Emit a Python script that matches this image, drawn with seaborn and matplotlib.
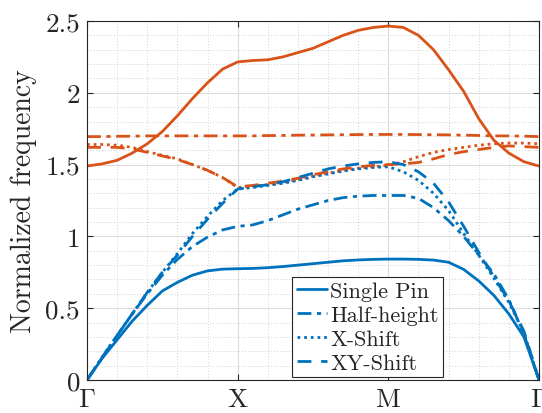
import numpy as np
import pandas as pd
import matplotlib
matplotlib.use("Agg")
import matplotlib.pyplot as plt
import seaborn as sns
from matplotlib.ticker import MultipleLocator

# ---- data ----
k = [round(0.1 * i, 1) for i in range(31)]  # path coordinate: Gamma(0) - X(1) - M(2) - Gamma(3)

single_pin_b1 = [0.00, 0.15, 0.28, 0.41, 0.52, 0.62, 0.68, 0.73, 0.76, 0.772, 0.775,
                 0.777, 0.782, 0.79, 0.80, 0.81, 0.82, 0.83, 0.836, 0.84, 0.842,
                 0.842, 0.84, 0.835, 0.82, 0.77, 0.69, 0.59, 0.46, 0.30, 0.00]
single_pin_b2 = [1.49, 1.505, 1.53, 1.58, 1.645, 1.73, 1.84, 1.96, 2.07, 2.165, 2.215,
                 2.225, 2.23, 2.25, 2.28, 2.31, 2.355, 2.40, 2.435, 2.455, 2.465,
                 2.455, 2.40, 2.30, 2.16, 2.01, 1.82, 1.67, 1.58, 1.52, 1.49]
half_b1 = [0.00, 0.155, 0.31, 0.46, 0.60, 0.73, 0.84, 0.93, 0.995, 1.045, 1.07,
           1.08, 1.11, 1.15, 1.19, 1.22, 1.25, 1.27, 1.28, 1.285, 1.285,
           1.285, 1.265, 1.20, 1.11, 1.00, 0.87, 0.74, 0.56, 0.32, 0.00]
half_b2 = [1.695, 1.695, 1.697, 1.698, 1.70, 1.70, 1.70, 1.70, 1.70, 1.70, 1.70,
           1.70, 1.702, 1.703, 1.705, 1.706, 1.707, 1.708, 1.709, 1.71, 1.71,
           1.71, 1.709, 1.708, 1.707, 1.705, 1.703, 1.70, 1.70, 1.698, 1.695]
xshift_b1 = [0.00, 0.16, 0.31, 0.46, 0.61, 0.75, 0.88, 1.02, 1.14, 1.25, 1.33,
             1.34, 1.355, 1.37, 1.39, 1.415, 1.435, 1.455, 1.47, 1.48, 1.485,
             1.45, 1.39, 1.30, 1.18, 1.02, 0.87, 0.71, 0.54, 0.33, 0.00]
xshift_b2 = [1.64, 1.64, 1.635, 1.62, 1.59, 1.565, 1.54, 1.50, 1.46, 1.41, 1.34,
             1.35, 1.36, 1.375, 1.395, 1.42, 1.44, 1.46, 1.475, 1.485, 1.495,
             1.52, 1.555, 1.585, 1.605, 1.62, 1.635, 1.645, 1.65, 1.65, 1.645]
xyshift_b1 = [0.00, 0.155, 0.31, 0.46, 0.61, 0.75, 0.87, 1.00, 1.12, 1.23, 1.33,
              1.345, 1.36, 1.38, 1.41, 1.44, 1.47, 1.49, 1.505, 1.515, 1.52,
              1.50, 1.45, 1.37, 1.24, 1.07, 0.89, 0.72, 0.55, 0.34, 0.00]
xyshift_b2 = [1.62, 1.62, 1.62, 1.61, 1.585, 1.56, 1.535, 1.50, 1.46, 1.41, 1.345,
              1.355, 1.37, 1.385, 1.405, 1.43, 1.45, 1.47, 1.485, 1.495, 1.50,
              1.505, 1.515, 1.54, 1.57, 1.59, 1.605, 1.62, 1.63, 1.625, 1.62]

labels = ["Single Pin", "Half-height", "X-Shift", "XY-Shift"]
band1 = [single_pin_b1, half_b1, xshift_b1, xyshift_b1]
band2 = [single_pin_b2, half_b2, xshift_b2, xyshift_b2]

tick_pos = [0, 1, 2, 3]
tick_labels = [r"$\Gamma$", r"$\mathrm{X}$", r"$\mathrm{M}$", r"$\Gamma$"]
ytick_vals = [0, 0.5, 1, 1.5, 2, 2.5]
ytick_labels = ["0", "0.5", "1", "1.5", "2", "2.5"]

# ---- style ----
sns.set_theme(style="ticks")
plt.rcParams["font.family"] = ["cmr10", "DejaVu Serif"]
plt.rcParams["mathtext.fontset"] = "cm"
plt.rcParams["axes.formatter.use_mathtext"] = True
plt.rcParams["axes.unicode_minus"] = False

blue = "#0072BD"
orange = "#D95319"
styles = ["-", (0, (5, 2, 1.5, 2)), (0, (1, 1.4)), (0, (5, 3.5))]

fig = plt.figure(figsize=(5.42, 4.14), dpi=100)
ax = fig.add_axes([87 / 542, 1 - 381 / 414, (539 - 87) / 542, (381 - 22) / 414])

handles = []
for lab, b1, b2, ls in zip(labels, band1, band2, styles):
    df1 = pd.DataFrame({"k": k, "f": b1})
    df2 = pd.DataFrame({"k": k, "f": b2})
    sns.lineplot(data=df2, x="k", y="f", ax=ax, color=orange, linestyle=ls,
                 linewidth=2.0, estimator=None, sort=False)
    sns.lineplot(data=df1, x="k", y="f", ax=ax, color=blue, linestyle=ls,
                 linewidth=2.0, estimator=None, sort=False)
    handles.append(ax.lines[-1])

ax.set_xlim(0, 3)
ax.set_ylim(0, 2.5)
ax.set_xticks(tick_pos)
ax.set_xticklabels(tick_labels)
ax.set_yticks(ytick_vals)
ax.set_yticklabels(ytick_labels)
ax.xaxis.set_minor_locator(MultipleLocator(0.2))
ax.yaxis.set_minor_locator(MultipleLocator(0.1))
ax.grid(which="major", color="#dcdcdc", linestyle="-", linewidth=0.8)
ax.grid(which="minor", color="#d0d0d0", linestyle=(0, (1, 2)), linewidth=0.7)
ax.set_axisbelow(True)

ax.tick_params(which="major", direction="in", length=4, width=0.8, top=True, right=True,
               labelsize=19.5, colors="#262626", labelcolor="#262626", pad=5)
ax.tick_params(which="minor", length=0, top=True, right=True)
for s in ax.spines.values():
    s.set_color("#262626")
    s.set_linewidth(0.8)

ax.set_xlabel("")
ax.set_ylabel("Normalized frequency", fontsize=20, color="#262626", labelpad=6)

leg = ax.legend(handles, labels, loc="lower right", bbox_to_anchor=(0.788, 0.008),
                fontsize=16, frameon=True, fancybox=False, framealpha=1,
                edgecolor="#262626", handlelength=1.35, handletextpad=0.15,
                borderpad=0.2, labelspacing=0.2, borderaxespad=0)
leg.get_frame().set_linewidth(0.8)

fig.savefig("out.png", dpi=100)
